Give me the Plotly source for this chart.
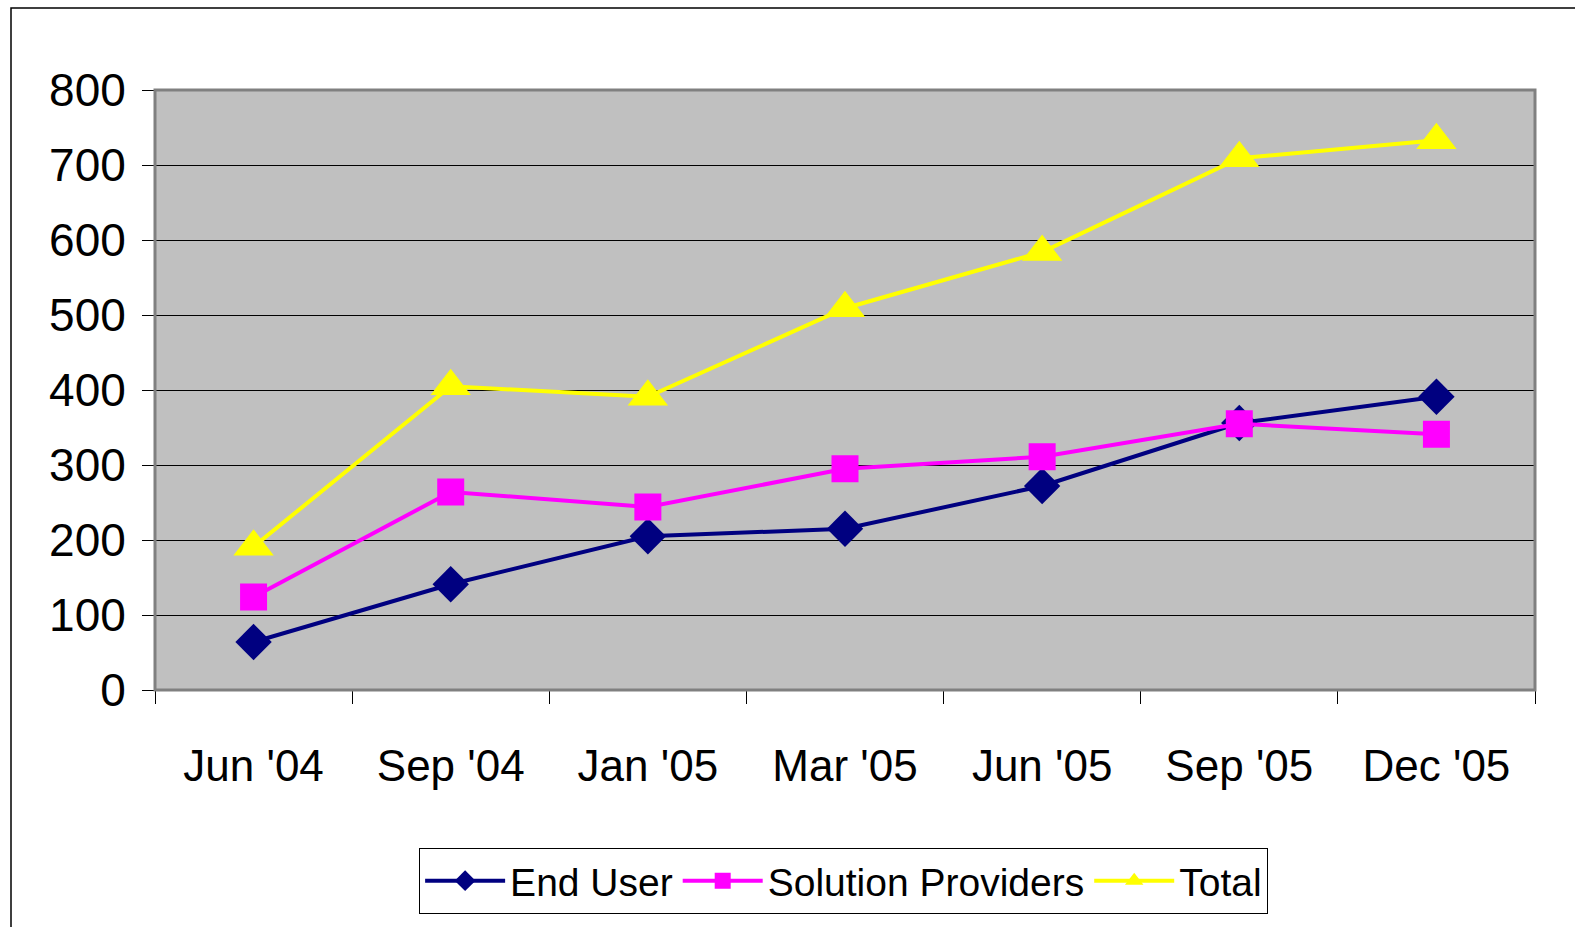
import plotly.graph_objects as go

categories = ["Jun '04", "Sep '04", "Jan '05", "Mar '05", "Jun '05", "Sep '05", "Dec '05"]
end_user = [64, 141, 205, 215, 272, 356, 391]
solution_providers = [124, 264, 244, 295, 311, 355, 341]
total = [191, 405, 391, 509, 584, 709, 733]
y_ticks = [0, 100, 200, 300, 400, 500, 600, 700, 800]

FONT = "Liberation Sans, Arial, sans-serif"

fig = go.Figure()
fig.add_trace(go.Scatter(x=categories, y=end_user, name="End User", mode="lines+markers",
                         line=dict(color="#000080", width=4),
                         marker=dict(symbol="diamond", size=28, color="#000080")))
fig.add_trace(go.Scatter(x=categories, y=solution_providers, name="Solution Providers", mode="lines+markers",
                         line=dict(color="#FF00FF", width=4),
                         marker=dict(symbol="square", size=27, color="#FF00FF")))
fig.add_trace(go.Scatter(x=categories, y=total, name="Total", mode="lines+markers",
                         line=dict(color="#FFFF00", width=4),
                         marker=dict(symbol="triangle-up", size=35, color="#FFFF00")))

L, T, W, H = 155, 90, 1380, 600
fig.update_layout(
    width=1575, height=927,
    margin=dict(l=L, r=1575 - L - W, t=T, b=927 - T - H, autoexpand=False),
    paper_bgcolor="white", plot_bgcolor="#C0C0C0",
    font=dict(family=FONT, color="black"),
    showlegend=True,
    legend=dict(orientation="h", x=0.499, xanchor="center", y=-0.263, yanchor="top",
                bordercolor="black", borderwidth=1, bgcolor="white",
                font=dict(size=39, family=FONT), itemwidth=80, tracegroupgap=0),
    xaxis=dict(type="category", range=[-0.5, 6.5], showgrid=False, tickson="boundaries",
               ticks="outside", ticklen=13, tickcolor="black", tickwidth=1,
               showline=False, zeroline=False, tickfont=dict(size=44, family=FONT),
               ticklabelstandoff=46),
    yaxis=dict(range=[0, 800], tickvals=y_ticks, showgrid=True, gridcolor="black", gridwidth=1,
               ticks="outside", ticklen=12, tickcolor="black", tickwidth=1,
               showline=False, zeroline=False, tickfont=dict(size=46, family=FONT),
               ticklabelstandoff=7),
    shapes=[
        dict(type="rect", xref="paper", yref="paper", x0=0, x1=1, y0=0, y1=1,
             line=dict(color="#808080", width=3), layer="above"),
        dict(type="rect", xref="paper", yref="paper",
             x0=(11 - L) / W, x1=(1600 - L) / W, y0=(T + H - 8) / H, y1=(T + H - 1000) / H,
             line=dict(color="black", width=1.5), layer="below"),
    ],
)
fig.write_html("out.html", config={"displayModeBar": False},
               post_script="document.body.style.margin='0';document.body.style.padding='0';")
